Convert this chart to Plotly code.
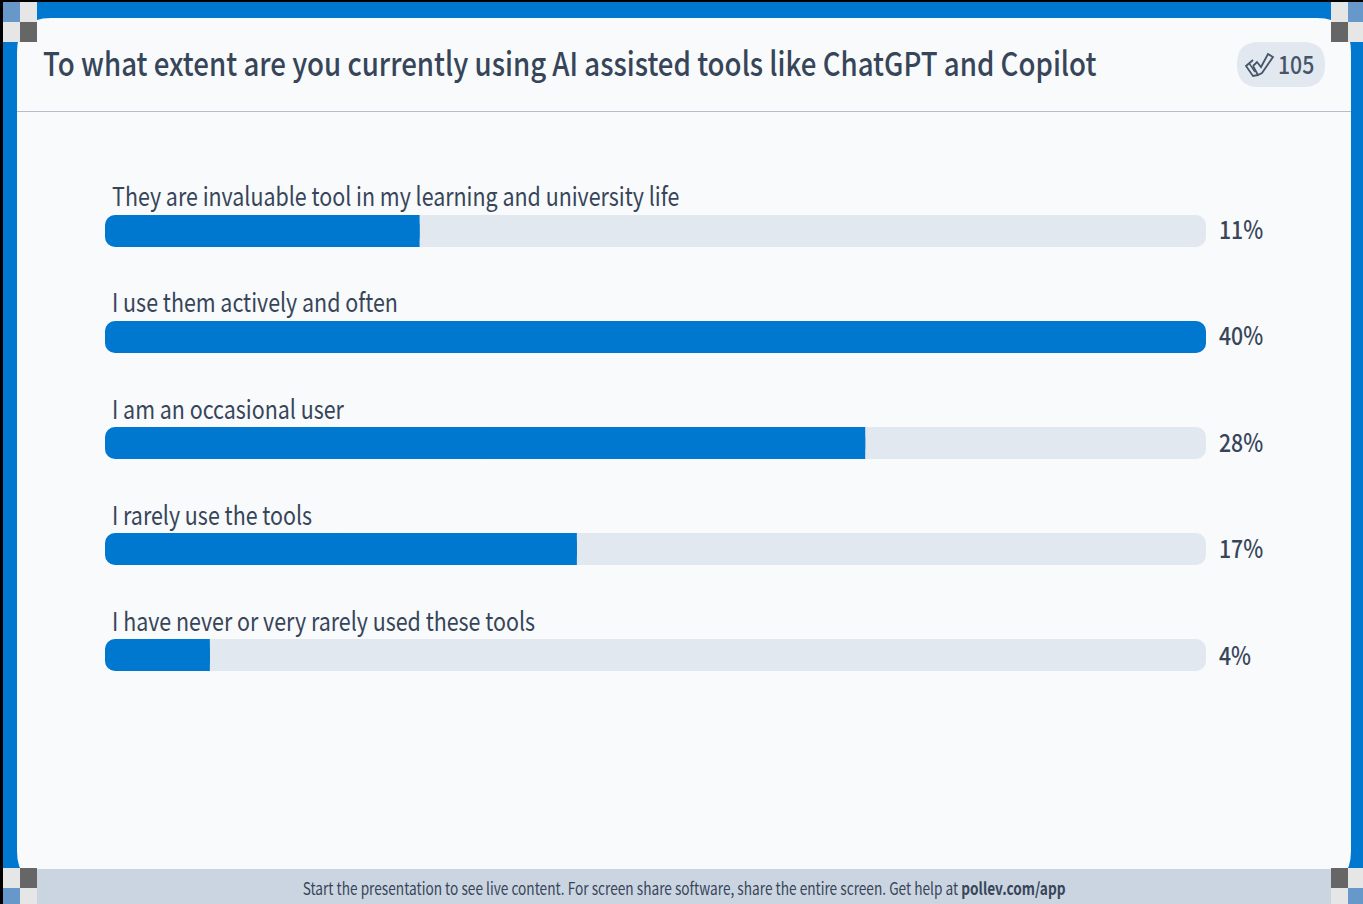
import plotly.graph_objects as go

WIDTH, HEIGHT = 1363, 904

title = "To what extent are you currently using AI assisted tools like ChatGPT and Copilot"
choices = [
    "They are invaluable tool in my learning and university life",
    "I use them actively and often",
    "I am an occasional user",
    "I rarely use the tools",
    "I have never or very rarely used these tools",
]
responses = [12, 42, 29, 18, 4]
total = sum(responses)
percent_labels = [f"{round(n / total * 100)}%" for n in responses]
leader = max(responses)

FONT = "Noto Sans CJK JP"
INK = "#374559"
BLUE = "#0078cf"
TRACK = "#e2e8f0"
CARD = "#f8fafc"
FOOTER = "#cbd5e1"
TILE_BLUE = "#6699c9"
TILE_LIGHT = "#e6e6e6"
TILE_DARK = "#666666"


def px(x):
    return x / WIDTH


def py(y):
    return 1 - y / HEIGHT


def rect(x0, y0, x1, y1, color):
    return dict(type="rect", xref="paper", yref="paper", x0=px(x0), x1=px(x1),
                y0=py(y1), y1=py(y0), fillcolor=color, line_width=0, layer="below")


def rounded(x0, y0, x1, y1, r, color):
    p = lambda x, y: f"{px(x):.5f},{py(y):.5f}"
    d = (f"M{p(x0 + r, y0)} L{p(x1 - r, y0)} Q{p(x1, y0)} {p(x1, y0 + r)} "
         f"L{p(x1, y1 - r)} Q{p(x1, y1)} {p(x1 - r, y1)} "
         f"L{p(x0 + r, y1)} Q{p(x0, y1)} {p(x0, y1 - r)} "
         f"L{p(x0, y0 + r)} Q{p(x0, y0)} {p(x0 + r, y0)} Z")
    return dict(type="path", xref="paper", yref="paper", path=d, fillcolor=color,
                line_width=0, layer="below")


def polyline(points, color, width):
    d = "M" + " L".join(f"{px(x):.5f},{py(y):.5f}" for x, y in points)
    return dict(type="path", xref="paper", yref="paper", path=d,
                line=dict(color=color, width=width), layer="above")


shapes = [
    rect(3, 2, WIDTH, HEIGHT, BLUE),
    rounded(17, 18, 1351, 885, 34, CARD),
    rect(17, 111, 1351, 112, "#b4bcc8"),
    rect(37, 869, 1331, HEIGHT, FOOTER),
    # Corner registration tiles
    rect(3, 2, 20, 22, TILE_BLUE), rect(20, 2, 37, 22, TILE_LIGHT),
    rect(3, 22, 20, 42, TILE_LIGHT), rect(20, 22, 37, 42, TILE_DARK),
    rect(1331, 2, 1348, 22, TILE_LIGHT), rect(1348, 2, WIDTH, 22, TILE_BLUE),
    rect(1331, 22, 1348, 42, TILE_DARK), rect(1348, 22, WIDTH, 42, TILE_LIGHT),
    rect(3, 868, 20, 888, TILE_LIGHT), rect(20, 868, 37, 888, TILE_DARK),
    rect(3, 888, 20, HEIGHT, TILE_BLUE), rect(20, 888, 37, HEIGHT, TILE_LIGHT),
    rect(1331, 868, 1348, 888, TILE_DARK), rect(1348, 868, WIDTH, 888, TILE_LIGHT),
    rect(1331, 888, 1348, HEIGHT, TILE_LIGHT), rect(1348, 888, WIDTH, HEIGHT, TILE_BLUE),
    # Response-count pill and its double check icon
    rounded(1237, 42, 1325, 87, 22, TRACK),
    polyline([(1253, 66), (1257, 62), (1261, 67), (1268, 54), (1273, 57),
              (1262, 73), (1258, 75), (1253, 66)], "#475569", 1.8),
    polyline([(1253, 60), (1246, 66), (1253, 76), (1258, 75)], "#475569", 1.8),
    polyline([(1249, 63), (1255, 72)], "#475569", 1.4),
]

categories = list(range(len(choices)))
zero_base = [0] * len(choices)
fig = go.Figure()

# An explicit base makes Plotly round both ends of a bar
fig.add_bar(y=categories, x=[leader] * len(choices), base=zero_base, orientation="h",
            marker=dict(color=TRACK, cornerradius=10, line_width=0), hoverinfo="skip")
fig.add_bar(y=categories, x=responses, base=zero_base, orientation="h",
            marker=dict(color=BLUE, cornerradius=10, line_width=0), hoverinfo="skip")
# Square off the right end of every fill short of the full scale
fig.add_bar(y=categories,
            x=[None if n == leader else n / 2 for n in responses],
            base=[None if n == leader else n / 2 for n in responses],
            orientation="h",
            marker=dict(color=BLUE, cornerradius=0, line_width=0), hoverinfo="skip")

annotations = [
    dict(xref="paper", yref="paper", x=px(41), y=py(62), text=title, showarrow=False,
         xanchor="left", yanchor="middle",
         font=dict(family=FONT, size=33, color=INK, weight=500)),
    dict(xref="paper", yref="paper", x=px(1276), y=py(63), text=str(total), showarrow=False,
         xanchor="left", yanchor="middle",
         font=dict(family=FONT, size=25, color="#475569", weight=500)),
    dict(xref="paper", yref="paper", x=px(684), y=py(887),
         text="Start the presentation to see live content. For screen share software, "
              "share the entire screen. Get help at <b>pollev.com/app</b>",
         showarrow=False, xanchor="center", yanchor="middle",
         font=dict(family=FONT, size=17, color=INK)),
]
for row, (cat, choice, label) in enumerate(zip(categories, choices, percent_labels)):
    annotations.append(dict(xref="x", yref="y", x=0, y=cat, xshift=5, yshift=36.5 - row * 0.25,
                            text=choice, showarrow=False, xanchor="left", yanchor="middle",
                            font=dict(family=FONT, size=26, color=INK)))
    annotations.append(dict(xref="x", yref="y", x=leader, y=cat, xshift=11, yshift=3.5 - row * 0.5,
                            text=label, showarrow=False, xanchor="left", yanchor="middle",
                            font=dict(family=FONT, size=25, color=INK, weight=500)))

fig.update_layout(
    width=WIDTH, height=HEIGHT, margin=dict(l=0, r=0, t=0, b=0),
    paper_bgcolor="#000000", plot_bgcolor="rgba(0,0,0,0)",
    barmode="overlay", bargap=0.69811, showlegend=False,
    shapes=shapes, annotations=annotations,
    xaxis=dict(domain=[px(105), px(1206)], range=[0, leader], visible=False, fixedrange=True),
    yaxis=dict(domain=[py(708), py(178)], range=[len(choices) - 0.5, -0.5],
               visible=False, fixedrange=True),
)

# The typeface is set condensed: narrow each text horizontally about its left edge,
# or about its centre for the footer line.
condense = """
var squeeze = {33: 0.838, 26: 0.824, 25: 0.85, 17: 0.805};
document.querySelectorAll('.annotation-text').forEach(function (t) {
  var size = parseInt(t.style.fontSize);
  var k = squeeze[size];
  var b = t.getBBox();
  var ox = size === 17 ? b.x + b.width / 2 : b.x;
  t.setAttribute('transform', 'translate(' + ox + ' 0) scale(' + k + ' 1) translate(' + (-ox) + ' 0)');
});
"""

fig.write_html("out.html", config={"displayModeBar": False}, post_script=condense)
